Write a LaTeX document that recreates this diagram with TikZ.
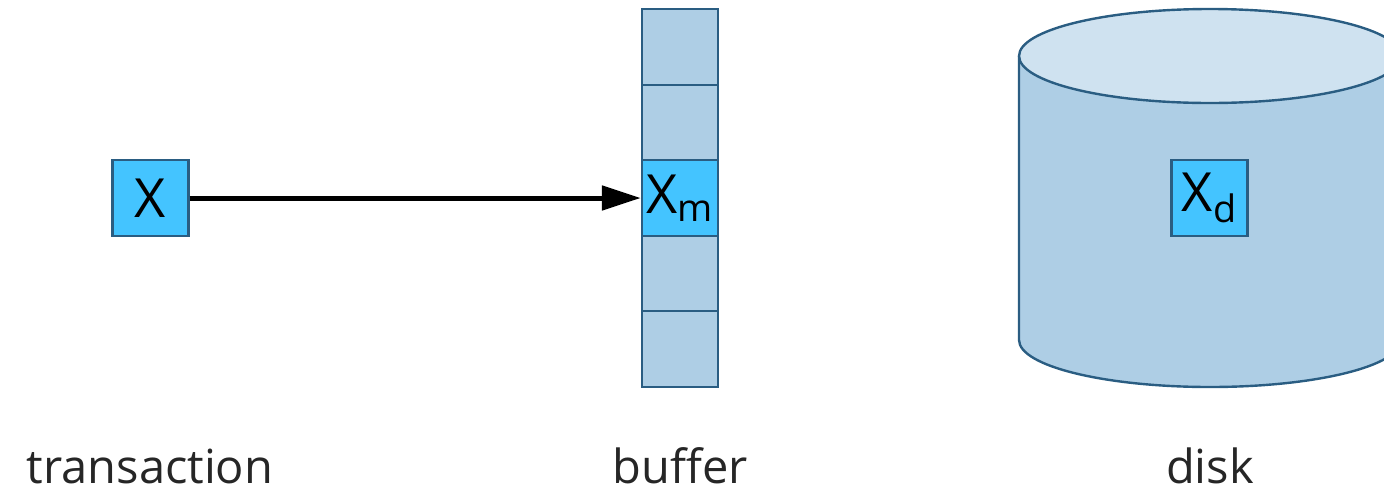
\documentclass[tikz,border=0pt]{standalone}
\usepackage{fontspec}
\setmainfont{Open Sans}
\usetikzlibrary{arrows.meta}
\definecolor{edgeblue}{RGB}{42,93,130}
\definecolor{cellblue}{RGB}{174,206,229}
\definecolor{topblue}{RGB}{207,226,240}
\definecolor{itemblue}{RGB}{68,196,255}
\tikzset{
  item/.style={draw=edgeblue, fill=itemblue, line width=1.2pt, minimum width=38pt, minimum height=37.8pt, inner sep=0pt, font=\fontsize{27}{27}\selectfont},
  cell/.style={draw=edgeblue, fill=cellblue, line width=1.2pt, minimum width=38pt, minimum height=37.8pt, inner sep=0pt},
  caption/.style={anchor=base, inner sep=0pt, font=\fontsize{23.5}{23.5}\selectfont, text=black!85}
}
\begin{document}
\begin{tikzpicture}[x=0.5pt,y=0.5pt,yscale=-1]
	\useasboundingbox (0,0) rectangle (1384,493);
	\clip (0,0) rectangle (1384,493);
	
	%Shape: Can (disk body)
	\draw [draw=edgeblue, fill=cellblue, line width=1.2pt] (1019,56) -- (1019,340) arc [start angle=180, end angle=0, x radius=191, y radius=47] -- (1401,56) ;
	%Shape: Ellipse (disk top)
	\draw [draw=edgeblue, fill=topblue, line width=1.2pt] (1210,56) ellipse [x radius=191, y radius=47] ;
	
	%Buffer cells
	\foreach \i in {0,1,3,4}
		\node [cell] (cell\i) at (680,47+75.5*\i) {};
	
	% Items
	\node [item] (x) at (150.5,198) {X};
	\node [item] (xm) at (680,198) {X\textsubscript{m}};
	\node [item] (xd) at (1209.5,198) {X\textsubscript{d}};
	
	%Straight Lines (arrow)
	\draw [line width=2.5pt, -{Triangle[length=19.5pt, width=12pt]}] (x) -- (xm) ;
	
	% Text Node
	\node [caption] (transaction) at (150,483) {transaction};
	% Text Node
	\node [caption] (buffer) at (680,483) {buffer};
	% Text Node
	\node [caption] (disk) at (1210,483) {disk};
	
\end{tikzpicture}
\end{document}
